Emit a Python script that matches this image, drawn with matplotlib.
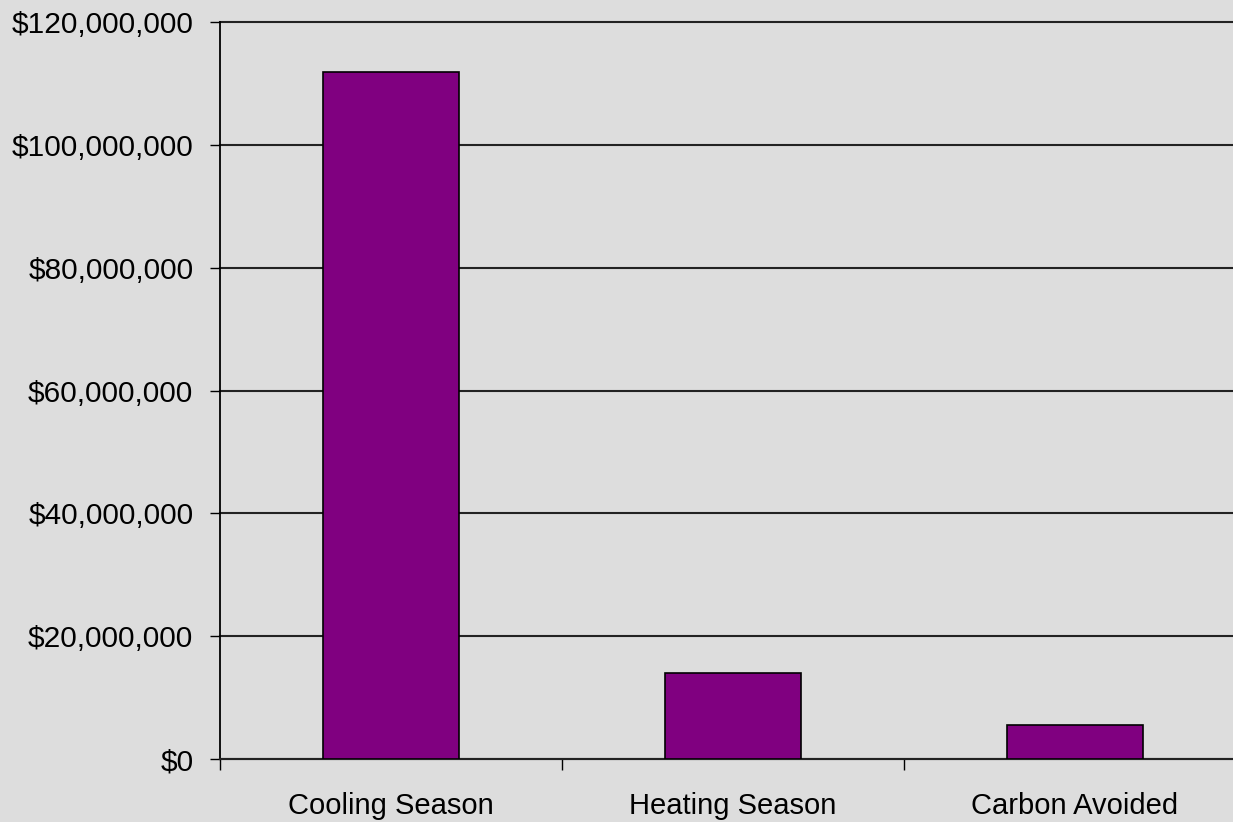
import matplotlib
matplotlib.use("Agg")
import matplotlib.pyplot as plt
from matplotlib.ticker import FuncFormatter

categories = ["Cooling Season", "Heating Season", "Carbon Avoided"]
values = [111.8e6, 14.0e6, 5.5e6]
yticks = [0, 20e6, 40e6, 60e6, 80e6, 100e6, 120e6]

plt.rcParams["font.family"] = ["Liberation Sans", "DejaVu Sans"]

W, H = 1233, 822
fig = plt.figure(figsize=(W / 100, H / 100), dpi=100, facecolor="#dddddd")
ax = fig.add_axes([220 / W, 1 - 759 / H, (1246 - 220) / W, (759 - 22) / H])
ax.set_facecolor("#dddddd")

x = list(range(len(categories)))
ax.bar([i + 0.5 for i in x], values, width=0.4, color="#800080",
       edgecolor="black", linewidth=1.2, zorder=3)

ax.set_xlim(0, 3)
ax.set_ylim(0, 120e6)
ax.set_yticks(yticks)
ax.yaxis.set_major_formatter(FuncFormatter(lambda v, p: f"${v:,.0f}"))
ax.grid(axis="y", color="#222222", linewidth=1.5, zorder=1)
for gl in ax.get_ygridlines():
    gl.set_clip_on(False)

ax.set_xticks([0, 1, 2, 3])
ax.set_xticklabels([])
ax.set_xticks([i + 0.5 for i in x], minor=True)
ax.set_xticklabels(categories, minor=True)
ax.tick_params(axis="x", which="minor", length=0, pad=24, labelsize=21)
ax.tick_params(axis="x", which="major", length=8, width=1, color="black")
ax.tick_params(axis="y", length=7.2, width=1, color="black", labelsize=21.5, pad=12)

for s in ("top", "right"):
    ax.spines[s].set_visible(False)
ax.spines["left"].set_color("black")
ax.spines["left"].set_linewidth(1.3)
ax.spines["bottom"].set_color("#222222")
ax.spines["bottom"].set_linewidth(1.5)

fig.savefig("out.png", dpi=100, facecolor=fig.get_facecolor())
